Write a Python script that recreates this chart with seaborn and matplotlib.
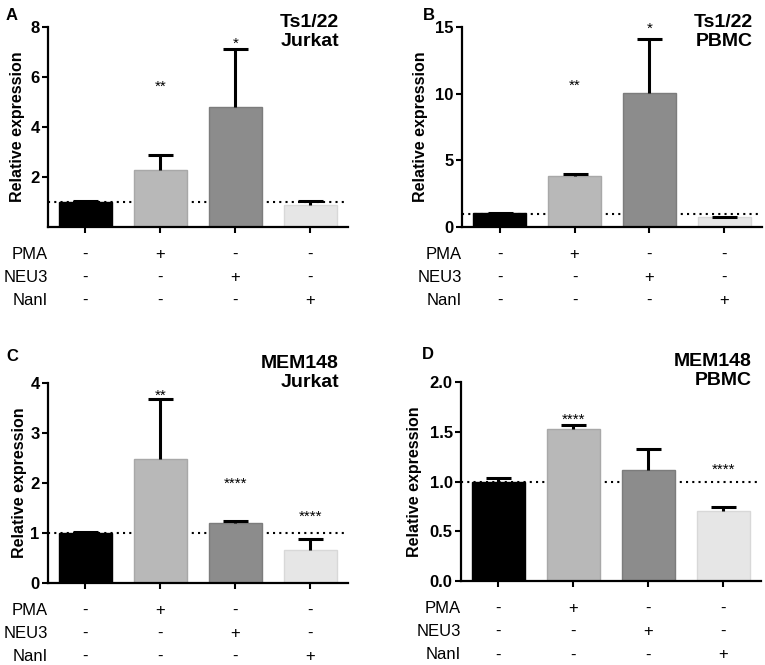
import numpy as np
import pandas as pd
import seaborn as sns
import matplotlib.pyplot as plt

sns.set_style('ticks')
plt.rcParams['font.family'] = ['Liberation Sans', 'DejaVu Sans']
plt.rcParams.update({'text.color': 'black', 'axes.labelcolor': 'black',
                     'xtick.color': 'black', 'ytick.color': 'black',
                     'axes.edgecolor': 'black'})

# conditions and treatment table
conditions = ['ctrl', 'PMA', 'NEU3', 'NanI']
treatments = ['PMA', 'NEU3', 'NanI']
signs = {
    'PMA':  ['-', '+', '-', '-'],
    'NEU3': ['-', '-', '+', '-'],
    'NanI': ['-', '-', '-', '+'],
}
bar_colors = ['#000000', '#b8b8b8', '#8c8c8c', '#e6e6e6']
edge_colors = ['#000000', '#a8a8a8', '#7c7c7c', '#d8d8d8']

# panel A: Ts1/22 Jurkat
a_vals = [1.0, 2.28, 4.79, 0.90]
a_err = [0.03, 0.62, 2.33, 0.13]
a_sig = ['', '**', '*', '']
a_sig_y = [0, 5.8, 7.5, 0]

# panel B: Ts1/22 PBMC
b_vals = [1.05, 3.8, 10.05, 0.75]
b_err = [0.02, 0.2, 4.05, 0.02]
b_sig = ['', '**', '*', '']
b_sig_y = [0, 10.9, 15.2, 0]

# panel C: MEM148 Jurkat
c_vals = [1.0, 2.49, 1.21, 0.67]
c_err = [0.03, 1.19, 0.04, 0.21]
c_sig = ['', '**', '****', '****']
c_sig_y = [0, 3.83, 2.07, 1.41]

# panel D: MEM148 PBMC
d_vals = [1.0, 1.53, 1.113, 0.703]
d_err = [0.04, 0.04, 0.22, 0.044]
d_sig = ['', '****', '', '****']
d_sig_y = [0, 1.67, 0, 1.16]

panels = [
    dict(letter='A', title='Ts1/22\nJurkat', vals=a_vals, err=a_err, sig=a_sig, sig_y=a_sig_y,
         ymax=8, ticks=[2, 4, 6, 8], fmt='{:g}',
         pos=[0.0627, 0.6586, 0.392, 0.3007], title_y=1.065, label_x=-0.075),
    dict(letter='B', title='Ts1/22\nPBMC', vals=b_vals, err=b_err, sig=b_sig, sig_y=b_sig_y,
         ymax=15, ticks=[0, 5, 10, 15], fmt='{:g}',
         pos=[0.604, 0.6586, 0.392, 0.3007], title_y=1.065, label_x=-0.115),
    dict(letter='C', title='MEM148\nJurkat', vals=c_vals, err=c_err, sig=c_sig, sig_y=c_sig_y,
         ymax=4, ticks=[0, 1, 2, 3, 4], fmt='{:g}',
         pos=[0.0627, 0.1233, 0.392, 0.3007], title_y=1.14, label_x=-0.07),
    dict(letter='D', title='MEM148\nPBMC', vals=d_vals, err=d_err, sig=d_sig, sig_y=d_sig_y,
         ymax=2, ticks=[0, 0.5, 1.0, 1.5, 2.0], fmt='{:.1f}',
         pos=[0.6026, 0.126, 0.392, 0.2992], title_y=1.145, label_x=-0.13),
]

fig = plt.figure(figsize=(7.65, 6.65), dpi=100)

for p in panels:
    ax = fig.add_axes(p['pos'])
    df = pd.DataFrame({'cond': conditions, 'val': p['vals']})
    sns.barplot(data=df, x='cond', y='val', hue='cond', palette=bar_colors,
                legend=False, width=0.7, ax=ax, zorder=2)
    for patch, ec in zip(ax.patches, edge_colors):
        patch.set_edgecolor(ec)
        patch.set_linewidth(1)
    xs = [patch.get_x() + patch.get_width() / 2 for patch in ax.patches]
    eb = ax.errorbar(xs, p['vals'], yerr=[np.zeros(4), p['err']], fmt='none',
                     ecolor='black', elinewidth=2.2, capsize=9, capthick=2.2, zorder=3)
    # only the upper cap is shown
    for cap in eb[1]:
        if np.allclose(cap.get_ydata(), p['vals']):
            cap.set_visible(False)
    ax.axhline(1, color='black', lw=1.5, ls=(0, (1, 2)), zorder=1)

    for x, s, y in zip(xs, p['sig'], p['sig_y']):
        if s:
            ax.annotate(s, (x, y), xytext=(0, -6), textcoords='offset points',
                        ha='center', va='baseline', fontsize=11, annotation_clip=False)

    ax.set_xlim(-0.5, 3.5)
    ax.set_ylim(0, p['ymax'])
    ax.set_yticks(p['ticks'])
    ax.set_yticklabels([p['fmt'].format(t) for t in p['ticks']],
                       fontweight='bold', fontsize=12)
    ax.set_xticks(range(4))
    ax.set_xticklabels([])
    ax.set_xlabel('')
    ax.set_ylabel('Relative expression', fontweight='bold', fontsize=11.5)
    ax.yaxis.set_label_coords(p['label_x'], 0.5)
    ax.tick_params(width=1.5, length=4, pad=2)
    sns.despine(ax=ax)
    for sp in ['left', 'bottom']:
        ax.spines[sp].set_linewidth(1.6)

    ax.text(0.97, p['title_y'], p['title'], transform=ax.transAxes, ha='right', va='top',
            fontsize=14, fontweight='bold', linespacing=1.15)
    ax.text(-0.14 if p['letter'] in 'AC' else -0.13, p['title_y'] + 0.03, p['letter'],
            transform=ax.transAxes, ha='left', va='top', fontsize=12, fontweight='bold')

    # treatment table under the axis
    for i, t in enumerate(treatments):
        off = -19.5 - 16.8 * i
        ax.annotate(t, (0, 0), xycoords='axes fraction', xytext=(0, off),
                    textcoords='offset points', ha='right', va='center', fontsize=12)
        for x, s in zip(xs, signs[t]):
            ax.annotate(s, (x, 0), xycoords=('data', 'axes fraction'), xytext=(0, off),
                        textcoords='offset points', ha='center', va='center', fontsize=12)

fig.savefig('out.png', dpi=100)
